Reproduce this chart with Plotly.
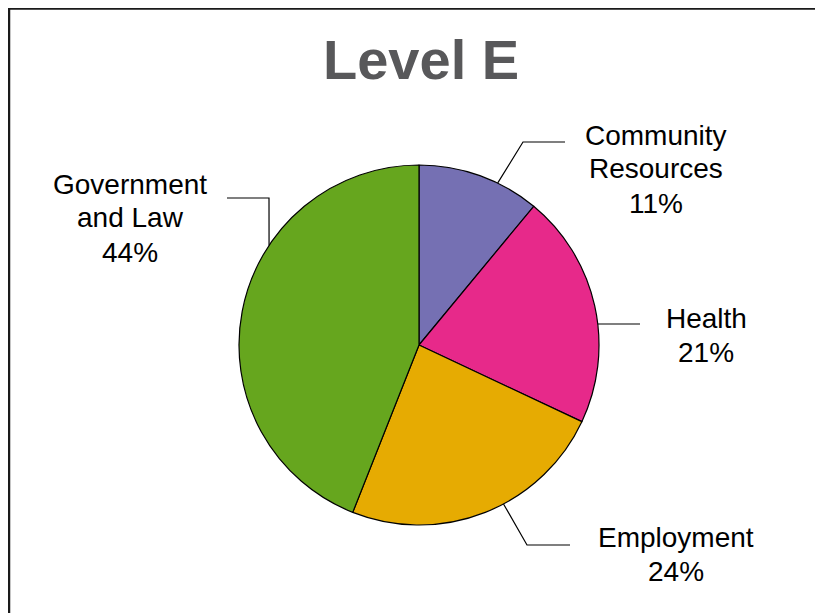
import math
import plotly.graph_objects as go

# ---- data ----
categories = ["Community Resources", "Health", "Employment", "Government and Law"]
values = [11, 21, 24, 44]
label_lines = [["Community", "Resources"], ["Health"], ["Employment"], ["Government", "and Law"]]
colors = ["#7570B3", "#E7298A", "#E6AB02", "#66A61E"]
title_text = "Level E"

# ---- layout constants (page pixels) ----
PAGE_OFF = 8          # default body margin of the html page
W, H = 823 - PAGE_OFF, 613 - PAGE_OFF
CX, CY, R = 419, 345, 180
FONT = "Liberation Sans, Arial, sans-serif"
LABEL_SIZE = 28
LINE_H = 34
# label block: center x, center y of first line
label_pos = [(656, 135), (706, 318), (676, 537), (130, 184)]
# leader: start angle on circle (deg clockwise from top), elbow, end
leaders = [
    (25.9, (523, 142), (565, 142)),
    (83.3, None, (640, 324)),
    (152.0, (527, 545), (570, 545)),
    (303.6, (269, 198), (227, 198)),
]


def px(x):
    return (x - PAGE_OFF) / W


def py(y):
    return 1 - (y - PAGE_OFF) / H


fig = go.Figure(
    go.Pie(
        labels=categories,
        values=values,
        sort=False,
        direction="clockwise",
        rotation=0,
        marker=dict(colors=colors, line=dict(color="black", width=1.2)),
        textinfo="none",
        showlegend=False,
        domain=dict(x=[px(CX - R), px(CX + R)], y=[py(CY + R), py(CY - R)]),
    )
)

annotations = [
    dict(text="<b>%s</b>" % title_text, x=px(421.5), y=py(59), xref="paper", yref="paper",
         xanchor="center", yanchor="middle", showarrow=False,
         font=dict(family=FONT, size=56, color="#58585A"))
]
shapes = []
for i, (cat, val) in enumerate(zip(categories, values)):
    lines = label_lines[i] + ["%d%%" % val]
    lx, ly = label_pos[i]
    for j, t in enumerate(lines):
        annotations.append(dict(text=t, x=px(lx), y=py(ly + j * LINE_H), xref="paper", yref="paper",
                                xanchor="center", yanchor="middle", showarrow=False,
                                font=dict(family=FONT, size=LABEL_SIZE, color="black")))
    ang, elbow, end = leaders[i]
    a = math.radians(ang)
    sx, sy = CX + R * math.sin(a), CY - R * math.cos(a)
    pts = [(sx, sy)] + ([elbow] if elbow else []) + [end]
    path = "M " + " L ".join("%f,%f" % (px(x), py(y)) for x, y in pts)
    shapes.append(dict(type="path", path=path, xref="paper", yref="paper",
                       line=dict(color="black", width=1.2)))

# frame border
shapes.append(dict(type="rect", xref="paper", yref="paper", x0=px(9), y0=-0.1, x1=1.1, y1=py(8.5),
                   line=dict(color="#1a1a1a", width=2.5)))

fig.update_layout(
    width=W, height=H,
    margin=dict(l=0, r=0, t=0, b=0),
    paper_bgcolor="white", plot_bgcolor="white",
    annotations=annotations, shapes=shapes,
)
fig.write_html("out.html")
